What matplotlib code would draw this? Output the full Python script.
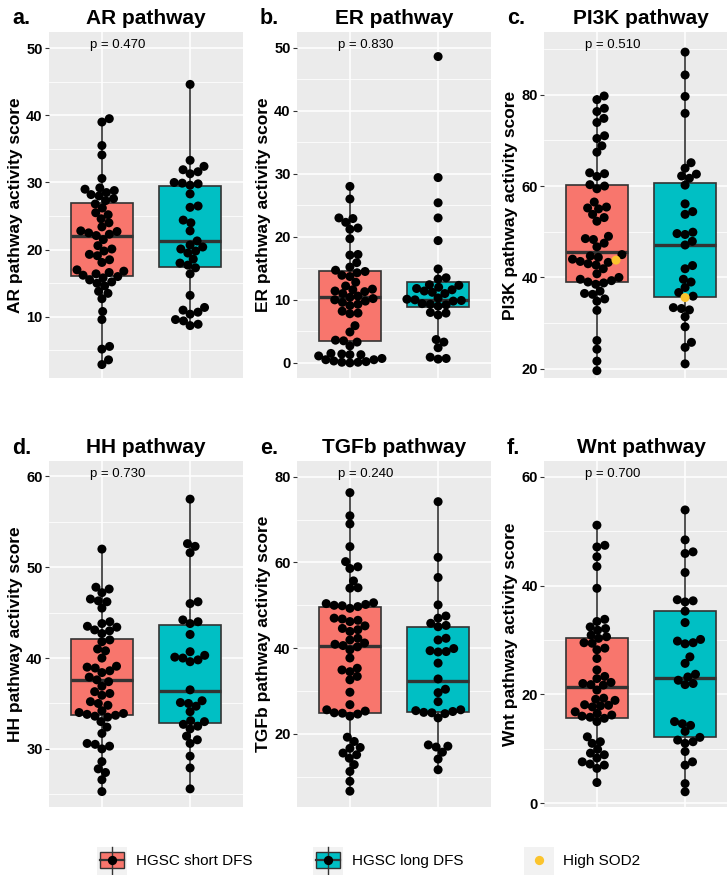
import numpy as np
import matplotlib
matplotlib.use("Agg")
import matplotlib.pyplot as plt
from matplotlib import rcParams
from matplotlib.patches import Rectangle
from matplotlib.transforms import blended_transform_factory

# Estética (ggplot2 theme_gray)
SHORT_COL = "#F8766D"
LONG_COL = "#00BFC4"
SOD2_COL = "#FBC42D"
PANEL_BG = "#EBEBEB"
KEY_BG = "#F2F2F2"
EDGE = "#333333"

rcParams["font.family"] = ["Liberation Sans", "DejaVu Sans"]
rcParams["axes.spines.top"] = False
rcParams["axes.spines.right"] = False

# =============================================================================
# Datos
# =============================================================================
pathways = ["AR", "ER", "PI3K", "HH", "TGFb", "Wnt"]
letters = ["a.", "b.", "c.", "d.", "e.", "f."]
p_values = ["0.470", "0.830", "0.510", "0.730", "0.240", "0.700"]

ar_short = [2.9, 3.6, 5.2, 5.6, 9.6, 10.8, 12.7, 13.5, 13.8, 14.6, 15.0, 15.2, 15.5,
            15.8, 16.0, 16.2, 16.4, 16.6, 16.8, 17.0, 18.1, 18.5, 19.1, 19.3, 19.8,
            20.1, 20.6, 21.5, 22.1, 22.3, 22.5, 22.7, 22.8, 23.4, 24.0, 24.6, 25.2,
            25.5, 26.2, 26.8, 27.3, 27.6, 28.0, 28.2, 28.5, 28.8, 29.0, 29.2, 30.6,
            34.1, 35.5, 39.0, 39.5]
ar_long = [8.7, 8.9, 9.4, 9.6, 10.4, 10.7, 11.0, 11.4, 13.2, 16.4, 17.3, 17.7, 18.0,
           18.6, 19.5, 19.8, 20.1, 20.4, 20.7, 21.3, 22.8, 24.0, 24.4, 26.3, 26.5,
           28.3, 29.6, 29.8, 29.9, 30.0, 31.3, 31.6, 31.9, 32.4, 33.3, 44.6]

er_short = [0.0, 0.1, 0.1, 0.2, 0.3, 0.5, 0.5, 0.7, 1.1, 1.3, 1.3, 1.4, 1.5, 2.7, 3.3,
            3.5, 3.6, 4.9, 5.9, 7.8, 7.9, 8.2, 9.1, 9.3, 9.6, 9.8, 10.0, 10.2, 10.4,
            10.6, 11.0, 11.3, 11.4, 11.6, 11.7, 12.2, 12.8, 13.7, 13.9, 14.3, 14.5,
            14.7, 15.2, 15.9, 17.1, 17.2, 19.7, 21.2, 21.4, 22.3, 22.9, 23.0, 26.0, 28.0]
er_long = [0.6, 0.7, 0.9, 2.4, 3.3, 3.7, 7.6, 7.9, 8.0, 9.0, 9.2, 9.3, 9.4, 9.8, 9.9,
           10.0, 10.1, 10.3, 11.0, 11.2, 11.4, 11.6, 11.8, 12.0, 12.3, 12.4, 13.3,
           13.5, 14.9, 19.4, 23.0, 25.4, 29.4, 48.6]

pi3k_short = [19.6, 21.7, 24.3, 26.2, 32.8, 34.8, 35.3, 36.3, 36.5, 37.0, 38.5, 38.8,
              39.0, 39.3, 39.6, 40.0, 40.8, 41.9, 42.7, 43.0, 43.3, 43.5, 44.0, 44.4,
              44.7, 45.0, 46.7, 47.5, 48.3, 48.5, 49.0, 52.3, 53.1, 53.8, 55.0, 55.2,
              55.4, 56.5, 59.4, 60.0, 60.3, 62.1, 62.7, 62.9, 67.4, 68.8, 70.4, 71.0,
              73.9, 74.8, 76.3, 77.0, 78.9, 79.7]
pi3k_long = [21.1, 24.7, 25.8, 29.2, 31.4, 32.9, 33.2, 33.4, 35.9, 36.7, 37.8, 39.0,
             39.6, 41.9, 42.6, 47.1, 47.9, 49.4, 49.6, 49.9, 53.8, 54.4, 56.1, 60.2,
             61.7, 62.2, 62.6, 63.9, 65.1, 75.9, 79.6, 84.3, 89.3]
# muestras con SOD2 alto (solo vía PI3K)
pi3k_sod2_short = [43.8]
pi3k_sod2_long = [35.6]

hh_short = [25.3, 26.6, 27.4, 27.8, 28.6, 30.0, 30.3, 30.5, 30.6, 31.7, 32.4, 33.0,
            33.5, 33.6, 33.7, 33.8, 33.9, 34.0, 34.2, 34.8, 35.0, 35.2, 35.9, 36.1,
            36.3, 36.9, 37.4, 37.6, 37.9, 38.4, 38.6, 38.9, 39.0, 39.1, 40.0, 40.8,
            41.0, 41.8, 42.0, 42.7, 43.0, 43.1, 43.4, 43.5, 43.8, 44.0, 45.5, 46.2,
            46.3, 46.5, 47.2, 47.6, 47.8, 52.0]
hh_long = [25.6, 27.9, 29.2, 30.6, 31.0, 31.4, 32.2, 32.5, 32.7, 33.0, 33.1, 34.1,
           34.7, 35.0, 35.1, 35.3, 36.5, 39.6, 39.8, 40.0, 40.1, 40.3, 40.7, 42.6,
           43.8, 44.0, 44.2, 46.0, 46.2, 51.6, 52.3, 52.6, 57.5]

tgfb_short = [6.6, 8.9, 11.2, 12.8, 14.3, 15.1, 15.5, 16.6, 16.8, 18.2, 19.2, 24.1,
              24.6, 24.8, 24.9, 25.3, 25.6, 26.8, 29.7, 32.6, 33.4, 34.5, 34.9, 35.3,
              37.7, 39.6, 40.3, 40.6, 40.9, 41.2, 41.9, 42.3, 43.9, 44.3, 44.6, 45.2,
              46.2, 46.5, 46.8, 47.0, 49.3, 49.7, 49.9, 50.0, 50.2, 50.4, 50.6, 54.0,
              54.1, 55.7, 58.6, 59.0, 60.2, 63.7, 69.0, 70.9, 76.3]
tgfb_long = [11.6, 14.1, 15.7, 16.9, 17.1, 17.4, 23.7, 24.7, 24.9, 25.0, 25.2, 25.4,
             25.6, 27.5, 29.6, 30.4, 32.8, 36.5, 39.1, 39.2, 39.4, 39.9, 41.9, 42.3,
             45.0, 45.3, 45.8, 47.0, 47.5, 50.1, 56.5, 61.2, 74.2]

wnt_short = [3.8, 6.4, 7.0, 7.2, 7.6, 8.3, 8.9, 9.2, 9.9, 11.0, 11.3, 12.2, 15.0,
             15.6, 15.8, 16.0, 16.2, 16.5, 16.8, 17.7, 17.9, 18.0, 18.1, 18.9, 19.1,
             19.3, 20.8, 21.7, 21.8, 22.0, 22.2, 22.9, 23.3, 24.5, 26.6, 28.2, 28.5,
             29.4, 29.5, 30.3, 30.6, 30.9, 31.8, 32.1, 32.4, 33.4, 33.8, 39.5, 43.5,
             45.3, 47.1, 47.4, 51.1]
wnt_long = [2.1, 3.6, 7.0, 7.6, 9.5, 11.0, 11.3, 11.6, 12.1, 13.2, 14.3, 14.6, 15.0,
            21.8, 22.0, 22.6, 23.2, 23.7, 25.7, 26.9, 29.3, 29.5, 29.8, 30.1, 33.2,
            35.3, 37.0, 37.2, 37.4, 42.4, 45.9, 46.2, 48.4, 53.9]

# cajas: q1, mediana, q3, bigote inferior, bigote superior
ar_box = [[16.1, 22.1, 27.0, 2.9, 39.5], [17.4, 21.3, 29.5, 8.7, 44.6]]
er_box = [[3.5, 10.4, 14.6, 0.0, 28.0], [8.8, 10.0, 12.9, 3.3, 14.9]]
pi3k_box = [[38.9, 45.6, 60.3, 19.6, 79.7], [35.7, 47.0, 60.6, 21.1, 89.3]]
hh_box = [[33.7, 37.6, 42.1, 25.3, 52.0], [32.9, 36.4, 43.6, 25.6, 57.5]]
tgfb_box = [[24.8, 40.6, 49.5, 6.6, 76.3], [25.2, 32.4, 45.0, 11.6, 74.2]]
wnt_box = [[15.6, 21.4, 30.4, 3.8, 51.1], [12.1, 23.0, 35.4, 2.1, 53.9]]

# ejes
ylims = [(0.9, 52.4), (-2.4, 52.5), (18.0, 93.7), (23.6, 61.7), (2.9, 83.7), (-0.7, 62.9)]
yticks = [[10, 20, 30, 40, 50], [0, 10, 20, 30, 40, 50], [20, 40, 60, 80],
          [30, 40, 50, 60], [20, 40, 60, 80], [0, 20, 40, 60]]
yminor = [[5, 15, 25, 35, 45], [5, 15, 25, 35, 45], [30, 50, 70, 90],
          [25, 35, 45, 55], [10, 30, 50, 70], [10, 30, 50]]

shorts = [ar_short, er_short, pi3k_short, hh_short, tgfb_short, wnt_short]
longs = [ar_long, er_long, pi3k_long, hh_long, tgfb_long, wnt_long]
boxes = [ar_box, er_box, pi3k_box, hh_box, tgfb_box, wnt_box]
sod2 = [None, None, (pi3k_sod2_short, pi3k_sod2_long), None, None, None]

W, H = 727, 875
DOT_PX = 9.0


def swarm_offsets(values, ax, spacing_px):
    """Desplazamientos horizontales tipo beeswarm (en unidades de datos)."""
    bb = ax.get_window_extent()
    x0, x1 = ax.get_xlim()
    y0, y1 = ax.get_ylim()
    sx = bb.width / (x1 - x0)
    sy = bb.height / (y1 - y0)
    ys = np.asarray(values, dtype=float) * sy
    offs = np.zeros(len(ys))
    px, py = [], []
    for i in np.argsort(ys, kind="stable"):
        y = ys[i]
        cands = [0.0]
        for qx, qy in zip(px, py):
            dy = abs(y - qy)
            if dy < spacing_px:
                dx = np.sqrt(spacing_px ** 2 - dy ** 2)
                cands += [qx + dx, qx - dx]
        cands.sort(key=abs)
        best = 0.0
        for c in cands:
            if all((c - qx) ** 2 + (y - qy) ** 2 >= spacing_px ** 2 - 1e-6
                   for qx, qy in zip(px, py)):
                best = c
                break
        px.append(best)
        py.append(y)
        offs[i] = best / sx
    return offs


fig = plt.figure(figsize=(W / 100, H / 100), dpi=100)
fig.patch.set_facecolor("white")

col_left = [49, 297, 544]
row_top = [32, 461]
ax_w, ax_h = 194, 346

for k, name in enumerate(pathways):
    r, c = divmod(k, 3)
    left, top = col_left[c], row_top[r]
    ax = fig.add_axes([left / W, (H - top - ax_h) / H, ax_w / W, ax_h / H])
    ax.set_facecolor(PANEL_BG)
    for s in ax.spines.values():
        s.set_visible(False)

    # cajas
    stats = [dict(q1=b[0], med=b[1], q3=b[2], whislo=b[3], whishi=b[4], fliers=[])
             for b in boxes[k]]
    bp = ax.bxp(stats, positions=[1, 2], widths=0.7, patch_artist=True,
                showcaps=False, showfliers=False, manage_ticks=False,
                boxprops=dict(edgecolor=EDGE, linewidth=1.2),
                whiskerprops=dict(color=EDGE, linewidth=1.2),
                medianprops=dict(color=EDGE, linewidth=2.4), zorder=2)
    for patch, col in zip(bp["boxes"], [SHORT_COL, LONG_COL]):
        patch.set_facecolor(col)

    ax.set_xlim(0.4, 2.6)
    ax.set_ylim(*ylims[k])

    # rejilla
    ax.set_yticks(yticks[k])
    ax.set_yticks(yminor[k], minor=True)
    ax.set_xticks([1, 2])
    ax.set_xticklabels([])
    ax.grid(which="major", color="white", lw=1.1, zorder=0)
    ax.grid(which="minor", axis="y", color="white", lw=0.55, zorder=0)
    ax.set_axisbelow(True)
    ax.tick_params(axis="x", length=0)
    ax.tick_params(axis="y", which="major", length=3, width=0.8, color=EDGE,
                   labelsize=10.5, pad=1.5)
    ax.tick_params(axis="y", which="minor", length=0)
    for t in ax.get_yticklabels():
        t.set_fontweight("bold")

    # puntos (beeswarm)
    for g, vals in enumerate([shorts[k], longs[k]]):
        extra = list(sod2[k][g]) if sod2[k] else []
        allv = list(vals) + extra
        offs = swarm_offsets(allv, ax, DOT_PX * 0.9)
        cols = ["black"] * len(vals) + [SOD2_COL] * len(extra)
        ax.scatter(np.full(len(allv), g + 1) + offs, allv, s=DOT_PX ** 2 * 0.52,
                   c=cols, linewidths=0, zorder=3)

    trans = blended_transform_factory(ax.transData, ax.transAxes)
    ax.text(0.86, 0.962, f"p = {p_values[k]}", transform=trans, ha="left",
            va="center", fontsize=9.5)
    ax.set_title(f"{name} pathway", fontsize=15, fontweight="bold", pad=5.5)
    ax.set_ylabel(f"{name} pathway activity score", fontsize=12.5,
                  fontweight="bold", labelpad=2)
    fig.text((left - 37) / W, (H - top + 7.5) / H, letters[k], fontsize=15.5,
             fontweight="bold", ha="left", va="baseline")

# =============================================================================
# Leyenda
# =============================================================================
lax = fig.add_axes([0, 0, 1, 40 / H])
lax.set_xlim(0, W)
lax.set_ylim(H, H - 40)
lax.axis("off")

legend_items = [("HGSC short DFS", SHORT_COL, 97), ("HGSC long DFS", LONG_COL, 313),
                ("High SOD2", None, 524)]
for label, col, x0 in legend_items:
    lax.add_patch(Rectangle((x0, 847), 30, 28, facecolor=KEY_BG, edgecolor="none"))
    xc = x0 + 15
    if col is not None:
        lax.plot([xc, xc], [847, 875], color=EDGE, lw=1)
        lax.add_patch(Rectangle((x0 + 3, 852), 24, 16, facecolor=col,
                                edgecolor=EDGE, lw=1))
        lax.plot([x0 + 3, x0 + 27], [860, 860], color=EDGE, lw=1.6)
        lax.scatter([xc], [860], s=DOT_PX ** 2 * 0.55, c="black", linewidths=0,
                    zorder=3)
    else:
        lax.scatter([xc], [860], s=DOT_PX ** 2 * 0.55, c=SOD2_COL, linewidths=0,
                    zorder=3)
    lax.text(x0 + 39, 861, label, fontsize=11, ha="left", va="center")

fig.savefig("out.png", dpi=100)
